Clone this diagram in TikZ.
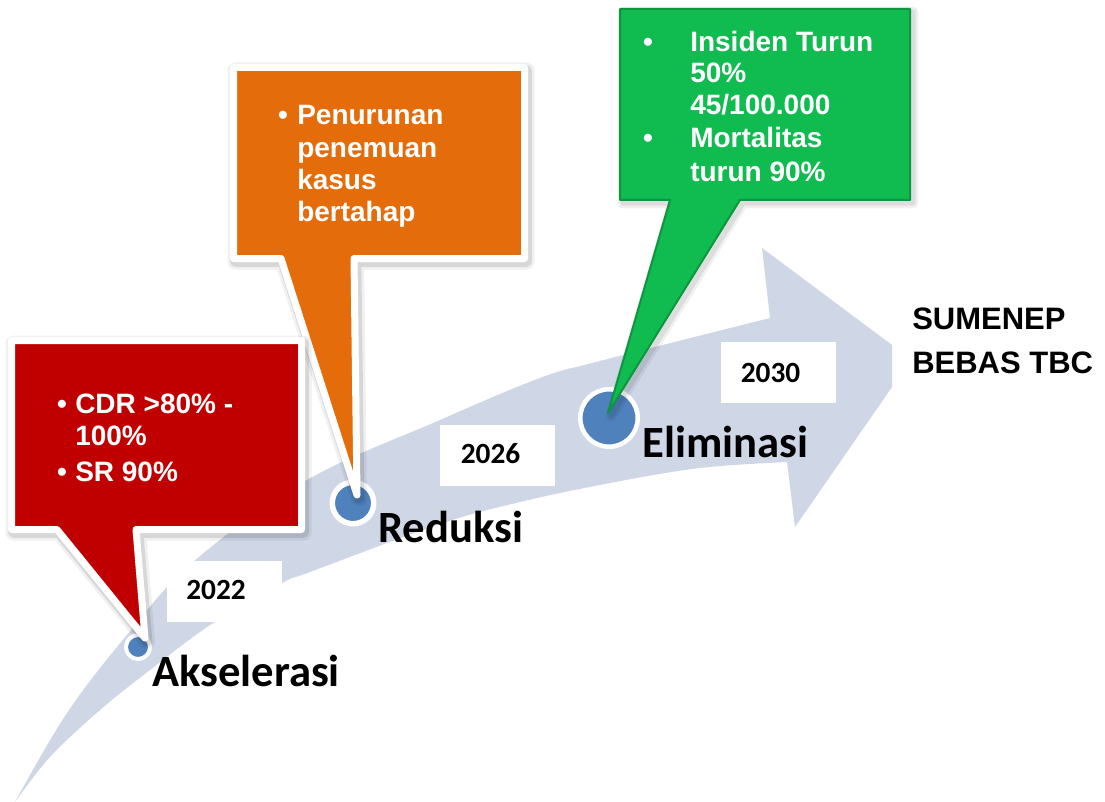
\documentclass[tikz,border=0pt]{standalone}
\usepackage{fontspec}
\setmainfont{Liberation Sans}
\newfontfamily\calibfont{Carlito}
\definecolor{arrowblue}{RGB}{207,214,230}
\definecolor{dotblue}{RGB}{79,129,189}
\definecolor{redbox}{RGB}{192,0,0}
\definecolor{orangebox}{RGB}{228,108,10}
\definecolor{greenbox}{RGB}{16,187,80}
\definecolor{greenedge}{RGB}{12,150,62}
\begin{document}
\begin{tikzpicture}[x=0.75pt,y=-0.75pt,
  ctext/.style={font=\fontsize{21}{25}\selectfont\bfseries, text=white, anchor=base west, inner sep=0pt},
  cbullet/.style={font=\fontsize{21}{25}\selectfont\bfseries, text=white, anchor=base, inner sep=0pt},
  yearbox/.style={fill=white, minimum width=86.25pt, minimum height=45.75pt, inner sep=0pt},
  yeartext/.style={font=\calibfont\bfseries\fontsize{22}{26}\selectfont, inner sep=0pt},
  stage/.style={font=\calibfont\bfseries\fontsize{33.5}{40}\selectfont, anchor=base west, inner sep=0pt},
  goal/.style={font=\fontsize{23.25}{28}\selectfont\bfseries, anchor=base west, inner sep=0pt},
  dot/.style={circle, fill=dotblue, draw=white, inner sep=0pt},
  whiteborder/.style={draw=white, line width=5.25pt, line join=round},
  glow/.style={draw=black, line join=round},
  redshape/.style={insert path={(11.5,340.5) -- (301.5,340.5) -- (301.5,529.5) -- (136,529.5) -- (145,638) -- (57,529.5) -- (11.5,529.5) -- cycle}},
  orangeshape/.style={insert path={(233.5,67.5) -- (524.5,67.5) -- (524.5,258.5) -- (354,258.5) -- (357,495) -- (281,258.5) -- (233.5,258.5) -- cycle}},
  greenshape/.style={insert path={(620,9) -- (910,9) -- (910,200) -- (740,200) -- (608,413) -- (670,200) -- (620,200) -- cycle}}
]
\useasboundingbox (0,0) rectangle (1105,802);
\fill[white] (0,0) rectangle (1105,802);

% curved arrow
\fill[arrowblue] plot[smooth, tension=0.6] coordinates {(15,802) (67,713) (127,635) (193,562) (307,480) (440,420) (540,378) (600,361) (770,318)}
  -- (762,248) -- (892,345) -- (892,387) -- (795,527) -- (787,462)
  -- plot[smooth, tension=0.6] coordinates {(787,462) (700,468) (610,483) (520,502) (440,524) (310,572) (282,583) (213,623) (150,670) (100,710) (50,757) (15,802)} -- cycle;

% year boxes
\node[yearbox] (b2022) at (224,591.5) {};
\node[yeartext] (t2022) at (216,589.5) {2022};
\node[yearbox] (b2026) at (497.5,455.5) {};
\node[yeartext] (t2026) at (490.5,453.5) {2026};
\node[yearbox] (b2030) at (778.5,372.5) {};
\node[yeartext] (t2030) at (770.5,372.5) {2030};

% milestone dots
\node[dot, minimum size=18pt, line width=3pt] (d1) at (138,647) {};
\node[dot, minimum size=31.1pt, line width=4.1pt] (d2) at (353,503) {};
\node[dot, minimum size=43.1pt, line width=3.4pt] (d3) at (609,418) {};

% stage labels
\node[stage] (s1) at (152,686) {Akselerasi};
\node[stage] (s2) at (378,542) {Reduksi};
\node[stage] (s3) at (642,457) {Eliminasi};

% orange callout
\path[glow, opacity=0.06, line width=12pt, shift={(2,3)}, orangeshape];
\path[glow, opacity=0.10, line width=8pt, shift={(2,3)}, orangeshape];
\path[whiteborder, fill=orangebox, orangeshape];

% red callout
\path[glow, opacity=0.06, line width=12pt, shift={(2,3)}, redshape];
\path[glow, opacity=0.10, line width=8pt, shift={(2,3)}, redshape];
\path[whiteborder, fill=redbox, redshape];

% green callout
\path[glow, opacity=0.06, line width=8pt, shift={(3,3)}, greenshape];
\path[glow, opacity=0.08, line width=4pt, shift={(3,3)}, greenshape];
\path[fill=greenbox, draw=greenedge, line width=1.5pt, line join=round, greenshape];

% red text
\node[cbullet] (rb1) at (62,413) {•};
\node[ctext] (r1) at (75,413) {CDR >80\% -};
\node[ctext] (r2) at (75,445) {100\%};
\node[cbullet] (rb2) at (62,481) {•};
\node[ctext] (r3) at (75,481) {SR 90\%};

% orange text
\node[cbullet] (ob1) at (283,125) {•};
\node[ctext] (o1) at (297,125) {Penurunan};
\node[ctext] (o2) at (297,158) {penemuan};
\node[ctext] (o3) at (297,190) {kasus};
\node[ctext] (o4) at (297,222) {bertahap};

% green text
\node[cbullet] (gb1) at (648,52) {•};
\node[ctext] (g1) at (690,52) {Insiden Turun};
\node[ctext] (g2) at (690,83) {50\%};
\node[ctext] (g3) at (690,115) {45/100.000};
\node[cbullet] (gb2) at (648,148) {•};
\node[ctext] (g4) at (690,148) {Mortalitas};
\node[ctext] (g5) at (690,182) {turun 90\%};

% goal
\node[goal] (goal1) at (912,329) {SUMENEP};
\node[goal] (goal2) at (912,373) {BEBAS TBC};
\end{tikzpicture}
\end{document}
